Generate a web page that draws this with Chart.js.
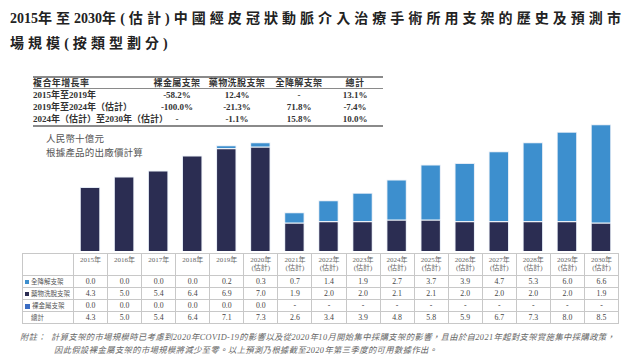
<!DOCTYPE html>
<html><head><meta charset="utf-8">
<script src="https://cdn.jsdelivr.net/npm/chart.js@4.4.0/dist/chart.umd.min.js"></script>
<style>
html,body{margin:0;padding:0;background:#fff;}
#wrap{position:relative;width:636px;height:359px;overflow:hidden;font-family:"Liberation Serif","Noto Sans CJK TC",serif;color:#333;}
.abs{position:absolute;white-space:nowrap;}
#title{left:10px;top:6px;font-size:14px;font-weight:bold;color:#222;line-height:25px;letter-spacing:4.05px;}
#title .n{letter-spacing:0;}
#cagr{position:absolute;left:33px;top:76px;border-collapse:collapse;table-layout:fixed;font-size:9px;color:#333;}
#cagr td{padding:0;height:12px;line-height:12px;white-space:nowrap;}
#cagr tr.h td{border-top:2px solid #8a8a8a;border-bottom:1.5px solid #8a8a8a;height:10px;line-height:10px;font-weight:bold;letter-spacing:0.4px;}
#cagr tr.last td{border-bottom:2px solid #8a8a8a;}
#cagr td.v{text-align:center;font-weight:bold;}
#cagr td.l{font-weight:bold;}
#unit{left:46px;top:132px;font-size:9.5px;color:#555;line-height:14px;letter-spacing:0.2px;}
#chartBox{position:absolute;left:0;top:100px;width:636px;height:151px;}
#dt{position:absolute;left:22px;top:253px;border-collapse:collapse;table-layout:fixed;font-size:7.8px;color:#444;}
#dt td{border:1px solid #c8c8c8;text-align:center;padding:0;height:11px;line-height:10px;white-space:nowrap;}
#dt tr.h td{height:22px;line-height:8px;color:#666;font-size:7px;vertical-align:top;padding-top:2px;box-sizing:border-box;}
#dt td.lab{text-align:left;font-size:6.5px;color:#555;padding-left:2px;}
.sq{display:inline-block;width:4px;height:4px;margin-right:2px;vertical-align:middle;}
#note{left:20px;top:331px;font-size:8.3px;color:#666;line-height:13px;font-style:italic;letter-spacing:0.4px;}
</style></head>
<body><div id="wrap">
<div id="title" class="abs"><span class="n">2015</span>年至<span class="n">2030</span>年(估計)中國經皮冠狀動脈介入治療手術所用支架的歷史及預測市<br>場規模(按類型劃分)</div>
<table id="cagr"></table>
<div id="unit" class="abs">人民幣十億元<br>根據產品的出廠價計算</div>
<div id="chartBox"><canvas id="c" width="636" height="151"></canvas></div>
<table id="dt"></table>
<div id="note" class="abs">附註：&nbsp;&nbsp;計算支架的市場規模時已考慮到2020年COVID-19的影響以及從2020年10月開始集中採購支架的影響，且由於自2021年起對支架實施集中採購政策，<br><span style="padding-left:34px">因此假設裸金屬支架的市場規模將減少至零。以上預測乃根據截至2020年第三季度的可用數據作出。</span></div>
</div>
<script>
// ---- data ----
const years = ['2015年','2016年','2017年','2018年','2019年','2020年','2021年','2022年','2023年','2024年','2025年','2026年','2027年','2028年','2029年','2030年'];
const estimated = [false,false,false,false,false,true,true,true,true,true,true,true,true,true,true,true];
const bioresorbable = [0.0,0.0,0.0,0.0,0.2,0.3,0.7,1.4,1.9,2.7,3.7,3.9,4.7,5.3,6.0,6.6];
const drugEluting = [4.3,5.0,5.4,6.4,6.9,7.0,1.9,2.0,2.0,2.1,2.1,2.0,2.0,2.0,2.0,1.9];
const bareMetal = [0.0,0.0,0.0,0.0,0.0,0.0,null,null,null,null,null,null,null,null,null,null];
const totals = [4.3,5.0,5.4,6.4,7.1,7.3,2.6,3.4,3.9,4.8,5.8,5.9,6.7,7.3,8.0,8.5];
const seriesNames = ['全降解支架','藥物洗脫支架','裸金屬支架'];
const totalName = '總計';
const cagrHeader = ['複合年增長率','裸金屬支架','藥物洗脫支架','全降解支架','總計'];
const cagrPeriods = ['2015年至2019年','2019年至2024年（估計）','2024年（估計）至2030年（估計）'];
const cagrBareMetal = ['-58.2%','-100.0%','-'];
const cagrDrugEluting = ['12.4%','-21.3%','-1.1%'];
const cagrBioresorbable = ['-','71.8%','15.8%'];
const cagrTotal = ['13.1%','-7.4%','10.0%'];

const colors = {bio:'#3d8fce', drug:'#2b2d52', bare:'#3b6dc4'};

// ---- CAGR table ----
(function(){
  const t = document.getElementById('cagr');
  const widths=[118,52,68,56,56];
  let cg='<colgroup>'+widths.map(w=>'<col style="width:'+w+'px">').join('')+'</colgroup>';
  let h='<tr class="h">'+cagrHeader.map((x,i)=>'<td'+(i?' class="v"':'')+'>'+x+'</td>').join('')+'</tr>';
  let rows='';
  for(let i=0;i<cagrPeriods.length;i++){
    rows+='<tr'+(i===cagrPeriods.length-1?' class="last"':'')+'><td class="l">'+cagrPeriods[i]+'</td><td class="v">'+cagrBareMetal[i]+'</td><td class="v">'+cagrDrugEluting[i]+'</td><td class="v">'+cagrBioresorbable[i]+'</td><td class="v">'+cagrTotal[i]+'</td></tr>';
  }
  t.style.width=widths.reduce((a,b)=>a+b,0)+'px';
  t.innerHTML=cg+h+rows;
})();

// ---- data table ----
(function(){
  const t=document.getElementById('dt');
  const colW=(618-73)/16;
  let cg='<colgroup><col style="width:51px">'+years.map(()=>'<col style="width:'+colW+'px">').join('')+'</colgroup>';
  let h='<tr class="h"><td class="lab"></td>'+years.map((y,i)=>'<td>'+y+(estimated[i]?'<br>(估計)':'')+'</td>').join('')+'</tr>';
  const f=v=>v===null?'-':v.toFixed(1);
  const sq=(c,s)=>'<span class="sq" style="background:'+c+';width:'+s+'px;height:'+s+'px"></span>';
  let r1='<tr><td class="lab">'+sq(colors.bio,4)+seriesNames[0]+'</td>'+bioresorbable.map(v=>'<td>'+f(v)+'</td>').join('')+'</tr>';
  let r2='<tr><td class="lab">'+sq(colors.drug,4)+seriesNames[1]+'</td>'+drugEluting.map(v=>'<td>'+f(v)+'</td>').join('')+'</tr>';
  let r3='<tr><td class="lab">'+sq(colors.bare,5)+seriesNames[2]+'</td>'+bareMetal.map(v=>'<td>'+f(v)+'</td>').join('')+'</tr>';
  let r4='<tr><td class="lab" style="padding-left:8px">'+totalName+'</td>'+totals.map(v=>'<td>'+f(v)+'</td>').join('')+'</tr>';
  t.style.width=(51+colW*16)+'px';
  t.innerHTML=cg+h+r1+r2+r3+r4;
})();

// ---- chart ----
new Chart(document.getElementById('c'),{
  type:'bar',
  data:{labels:years,datasets:[
    {label:seriesNames[1],data:drugEluting,backgroundColor:colors.drug,borderColor:'#e4ebf5',borderWidth:1,borderSkipped:'bottom'},
    {label:seriesNames[2],data:bareMetal,backgroundColor:colors.bare,borderWidth:0},
    {label:seriesNames[0],data:bioresorbable,backgroundColor:colors.bio,borderColor:'#e4ebf5',borderWidth:1,borderSkipped:'bottom'}
  ]},
  options:{
    responsive:false,animation:false,
    layout:{padding:{left:73,right:18,top:0,bottom:0}},
    datasets:{bar:{categoryPercentage:1,barPercentage:0.6}},
    scales:{
      x:{stacked:true,display:false},
      y:{stacked:true,display:false,min:0,max:10.13}
    },
    plugins:{legend:{display:false},tooltip:{enabled:false}}
  }
});
</script>
</body></html>
